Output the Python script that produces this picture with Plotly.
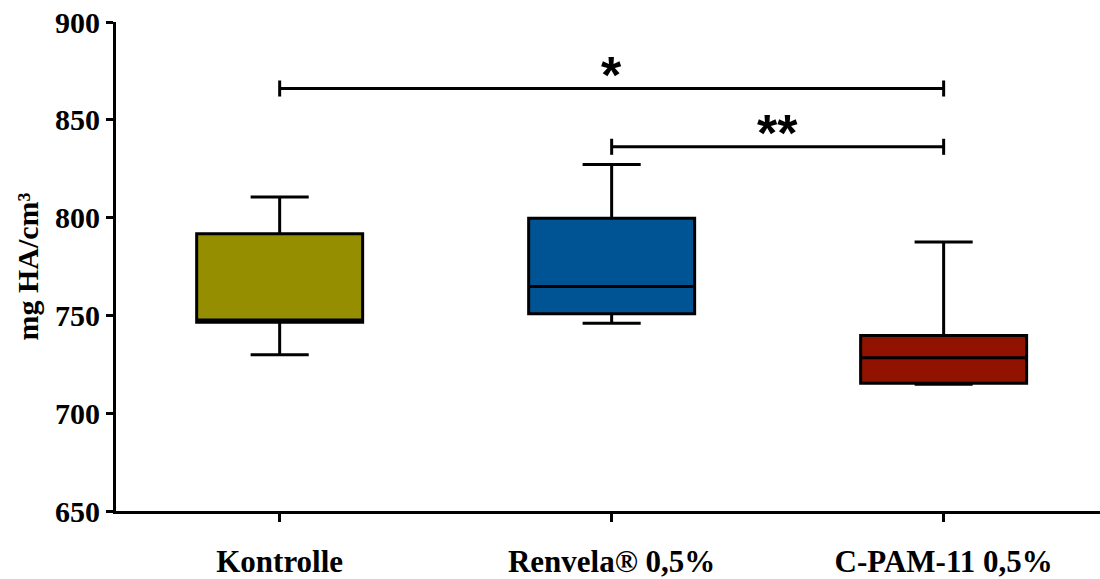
import plotly.graph_objects as go

categories = ["Kontrolle", "Renvela® 0,5%", "C-PAM-11 0,5%"]
q1 = [746.5, 750.8, 715.3]
median = [747.6, 764.8, 728.3]
q3 = [791.8, 799.7, 739.7]
lowerfence = [729.9, 746.0, 714.8]
upperfence = [810.5, 827.2, 787.5]
colors = ["#948E00", "#005494", "#921200"]

sig_from = [0, 1]
sig_to = [2, 2]
sig_y = [866.0, 836.2]
sig_label = ["*", "**"]

y_ticks = [650, 700, 750, 800, 850, 900]

fig = go.Figure()
for i, cat in enumerate(categories):
    fig.add_trace(go.Box(
        x=[cat], q1=[q1[i]], median=[median[i]], q3=[q3[i]],
        lowerfence=[lowerfence[i]], upperfence=[upperfence[i]],
        fillcolor=colors[i], line=dict(color="black", width=3),
        width=0.5, whiskerwidth=0.35, boxpoints=False, showlegend=False,
        hoverinfo="skip",
    ))

cap = 4.1
for a, b, yv, lab in zip(sig_from, sig_to, sig_y, sig_label):
    xa, xb = categories[a], categories[b]
    fig.add_shape(type="line", xref="x", yref="y", x0=xa, x1=xb, y0=yv, y1=yv,
                  line=dict(color="black", width=3))
    for xe in (xa, xb):
        fig.add_shape(type="line", xref="x", yref="y", x0=xe, x1=xe,
                      y0=yv - cap, y1=yv + cap, line=dict(color="black", width=3))
    fig.add_annotation(x=(a + b) / 2, y=yv, xref="x", yref="y", text=lab,
                       showarrow=False, yanchor="bottom", yshift=-17,
                       font=dict(family="Liberation Sans", size=52, color="black",
                                 weight="bold"))

fig.update_layout(
    width=1100, height=579,
    margin=dict(l=116, r=0, t=22, b=68),
    plot_bgcolor="white", paper_bgcolor="white",
    font=dict(family="Liberation Serif", color="black"),
    xaxis=dict(
        type="category", categoryorder="array", categoryarray=categories,
        range=[-0.493, 2.471], showgrid=False, zeroline=False, automargin=False,
        showline=True, linecolor="black", linewidth=3,
        ticks="outside", ticklen=8, tickwidth=3, tickcolor="black",
        tickfont=dict(family="Liberation Serif", size=31, color="black", weight="bold"),
        ticklabelstandoff=13,
    ),
    yaxis=dict(
        range=[650, 900], tickvals=y_ticks, showgrid=False, zeroline=False,
        automargin=False,
        showline=True, linecolor="black", linewidth=3,
        ticks="outside", ticklen=7, tickwidth=3, tickcolor="black",
        tickfont=dict(family="Liberation Serif", size=30, color="black", weight="bold"),
        title=dict(text="mg HA/cm³", standoff=8,
                   font=dict(family="Liberation Serif", size=30, color="black", weight="bold")),
    ),
)

fig.write_html("out.html")
